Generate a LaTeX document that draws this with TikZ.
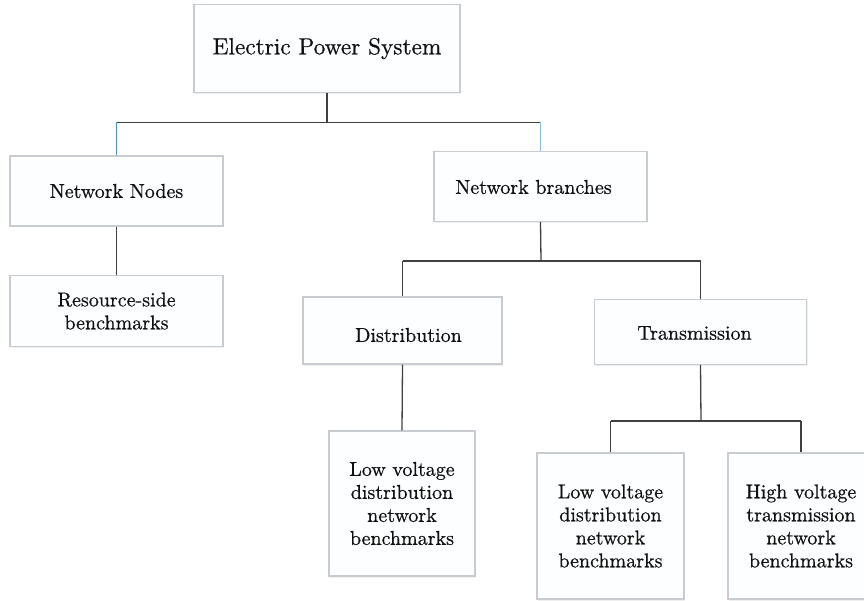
\documentclass[tikz,border=0pt]{standalone}
\usepackage{fontspec}
\newfontfamily\boxfont{lmroman10-regular.otf}[FakeBold=0.6]
\usetikzlibrary{shadows}
\definecolor{boxline}{HTML}{C8CCD1}
\definecolor{boxfill}{HTML}{FDFEFF}
\definecolor{conn}{HTML}{404040}
\definecolor{blueconn}{HTML}{4A8FD8}
\definecolor{lightblueconn}{HTML}{8DBDE6}
\definecolor{txt}{HTML}{111111}
\tikzset{
  box/.style={draw=boxline, line width=1.2pt, fill=boxfill, inner sep=0pt,
    align=center, text=txt, font=\boxfont\fontsize{20}{23}\selectfont,
    drop shadow={shadow xshift=1.2pt, shadow yshift=-1.5pt, fill=black!12}},
  boxtext/.style={inner sep=0pt, align=center, text=txt, font=\boxfont\fontsize{20}{23}\selectfont},
  link/.style={draw=conn, line width=1.3pt}
}
\begin{document}
\begin{tikzpicture}[x=1pt,y=-1pt]
\useasboundingbox (0,0) rectangle (864,601);
\begin{scope}
\clip (0,0) rectangle (864,601);
\node[box, minimum width=266pt, minimum height=88pt, font=\boxfont\fontsize{23.3}{27}\selectfont] (eps) at (327,48.5) {Electric Power System};
\node[box, minimum width=213pt, minimum height=70pt] (nn) at (116.5,191) {Network Nodes};
\node[box, minimum width=213pt, minimum height=70pt] (nb) at (540.5,186.5) {};
\node[boxtext] (nbT) at (533.5,187) {Network branches};
\node[box, minimum width=213pt, minimum height=71pt] (rs) at (116.5,311) {Resource-side\\benchmarks};
\node[box, minimum width=199pt, minimum height=67pt] (dist) at (402.5,330.5) {};
\node[boxtext] (distT) at (408.5,335) {Distribution};
\node[box, minimum width=212pt, minimum height=65pt] (trans) at (700.5,332) {};
\node[boxtext] (transT) at (694.5,333) {Transmission};
\node[box, minimum width=146pt, minimum height=145pt] (lvl) at (402,503.5) {Low voltage\\distribution\\network\\benchmarks};
\node[box, minimum width=147pt, minimum height=146pt] (lvm) at (610.5,526) {Low voltage\\distribution\\network\\benchmarks};
\node[box, minimum width=146pt, minimum height=146pt] (hv) at (801,526) {High voltage\\transmission\\network\\benchmarks};

\coordinate (j1) at (327,122.5);
\coordinate (j2) at (541,261);
\coordinate (j3) at (701,421);

\draw[link] (eps.south) -- (j1);
\draw[link] (nn.north |- j1) -- (nb.north |- j1);
\draw[draw=blueconn, line width=1.0pt] (nn.north |- j1) -- (nn.north);
\draw[draw=lightblueconn, line width=1.4pt] (nb.north |- j1) -- (nb.north);
\draw[link] (nn.south) -- (rs.north);

\draw[link] (nb.south) -- (j2);
\draw[link] (dist.north |- j2) -- (trans.north |- j2);
\draw[link] (dist.north |- j2) -- (dist.north);
\draw[link] (trans.north |- j2) -- (trans.north);
\draw[link] (dist.south) -- (lvl.north);

\draw[link] (trans.south) -- (j3);
\draw[link] (lvm.north |- j3) -- (hv.north |- j3);
\draw[link] (lvm.north |- j3) -- (lvm.north);
\draw[link] (hv.north |- j3) -- (hv.north);
\end{scope}
\end{tikzpicture}
\end{document}
